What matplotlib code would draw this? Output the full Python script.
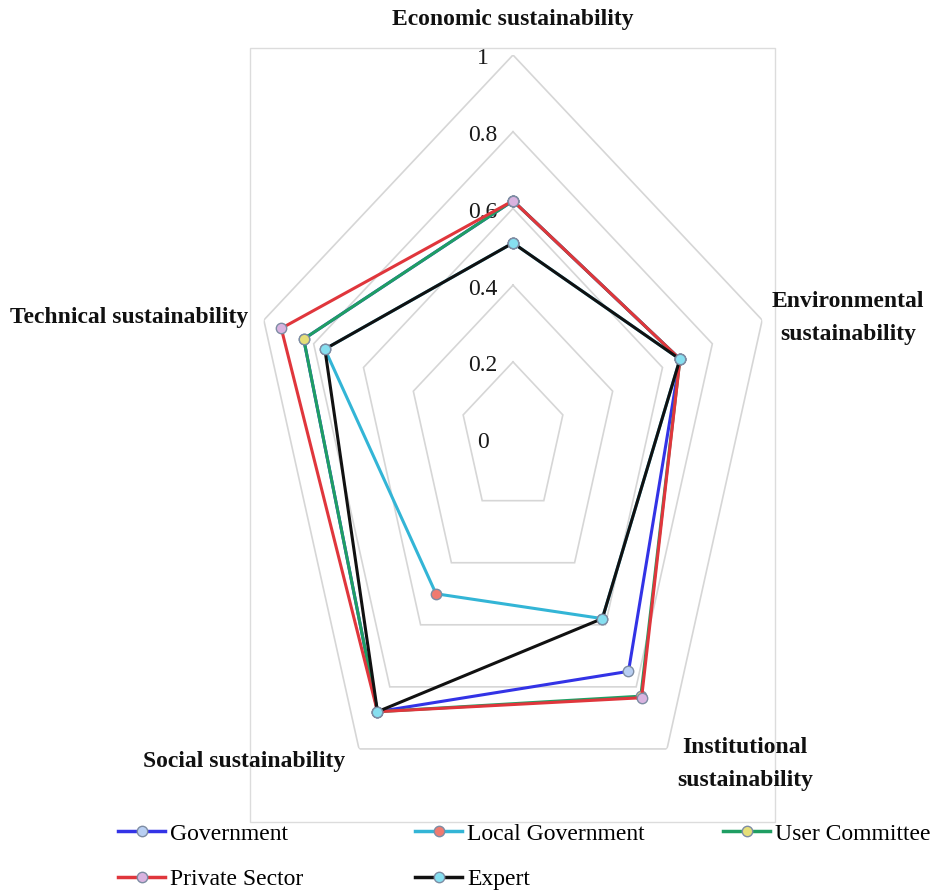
import numpy as np
import matplotlib
matplotlib.use("Agg")
import matplotlib.pyplot as plt
from matplotlib.lines import Line2D
from matplotlib.patches import Rectangle
import matplotlib.transforms as mtransforms

plt.rcParams["font.family"] = ["Liberation Serif", "DejaVu Serif"]

# ---------------- data ----------------
categories = ["Economic sustainability", "Environmental\nsustainability",
              "Institutional\nsustainability", "Social sustainability",
              "Technical sustainability"]
series_names = ["Government", "Local Government", "User Committee",
                "Private Sector", "Expert"]
government = [0.62, 0.67, 0.75, 0.88, 0.84]
local_government = [0.51, 0.67, 0.58, 0.50, 0.755]
user_committee = [0.62, 0.67, 0.83, 0.88, 0.84]
private_sector = [0.62, 0.67, 0.835, 0.88, 0.93]
expert = [0.51, 0.67, 0.58, 0.88, 0.755]
r_ticks = [0, 0.2, 0.4, 0.6, 0.8, 1]
r_tick_labels = ["0", "0.2", "0.4", "0.6", "0.8", "1"]

series_values = [government, local_government, user_committee,
                 private_sector, expert]
line_colors = ["#3333e6", "#33b5d6", "#1f9e63", "#e0363c", "#111111"]
marker_fills = ["#b9cff2", "#f07a70", "#e6df78", "#d9b3e0", "#86dff0"]
marker_edge = "#7d8ca3"

# ---------------- figure ----------------
W, H = 942, 893
fig = plt.figure(figsize=(W / 100, H / 100), dpi=100)

# plot-area border (Excel style)
fig.patches.append(Rectangle((250 / W, 1 - 822 / H), 525 / W, 774 / H,
                             transform=fig.transFigure, fill=False,
                             edgecolor="#dcdcdc", lw=1.0, zorder=0))

cx, cy, rx, ry = 513, 438.6, 262, 383.6
ax = fig.add_axes([(cx - rx) / W, 1 - (cy + ry) / H, 2 * rx / W, 2 * ry / H],
                  projection="polar")
ax.set_aspect("auto")
ax.set_theta_zero_location("N")
ax.set_theta_direction(-1)
ax.set_ylim(0, 1)
ax.grid(False)
ax.set_xticks([])
ax.set_yticks([])
ax.spines["polar"].set_visible(False)
ax.patch.set_visible(False)

n = len(categories)
theta = np.linspace(0, 2 * np.pi, n, endpoint=False)
theta_c = np.append(theta, theta[0])

# pentagon gridlines
for r in r_ticks[1:]:
    ax.plot(theta_c, [r] * (n + 1), color="#d6d6d6", lw=1.2, zorder=1,
            solid_joinstyle="miter")

# radial tick labels
lab_tr = mtransforms.offset_copy(ax.transData, fig=fig, x=-30, y=-4,
                                 units="dots")
for r, lab in zip(r_ticks, r_tick_labels):
    ax.text(0, r, lab, transform=lab_tr, ha="center", va="center",
            fontsize=17, color="#1a1a1a", zorder=2)

# series
for name, vals, lc, mf in zip(series_names, series_values, line_colors,
                              marker_fills):
    v = np.append(vals, vals[0])
    ax.plot(theta_c, v, color=lc, lw=2.2, marker="o", ms=7.5,
            mfc=mf, mec=marker_edge, mew=1.0, zorder=3,
            solid_joinstyle="miter", label=name)

# category labels
cat_pos = [(513, 20), (848, 318), (745, 764), (244, 762), (129, 318)]
for lab, (x, y) in zip(categories, cat_pos):
    fig.text(x / W, 1 - y / H, lab, ha="center", va="center",
             fontsize=17, fontweight="bold", multialignment="center",
             linespacing=1.7, color="#111111")

# legend (three columns placed as in the reference)
def mk(i):
    return Line2D([], [], color=line_colors[i], lw=2.5, marker="o", ms=7.5,
                  mfc=marker_fills[i], mec=marker_edge, mew=1.0)

col_groups = [[0, 3], [1, 4], [2]]
col_x = [118, 415, 723]
for grp, x in zip(col_groups, col_x):
    fig.legend([mk(i) for i in grp], [series_names[i] for i in grp],
               loc="upper left", bbox_to_anchor=(x / W, 1 - 823 / H),
               frameon=False, fontsize=17, handlelength=2.0,
               handletextpad=0.2, borderaxespad=0, borderpad=0,
               labelspacing=1.02)

fig.savefig("out.png", dpi=100)
